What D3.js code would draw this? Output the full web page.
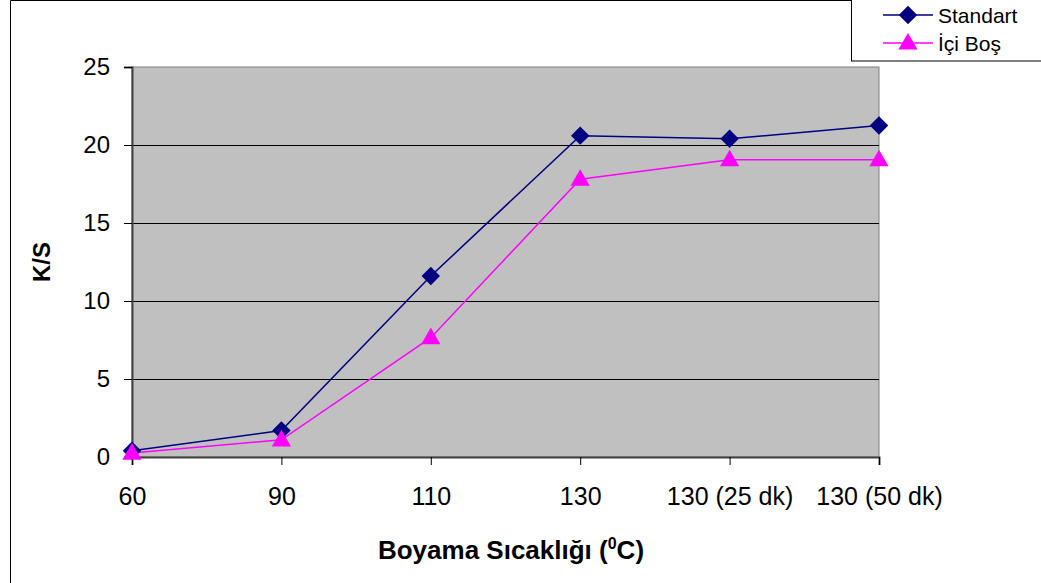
<!DOCTYPE html>
<html>
<head>
<meta charset="utf-8">
<script src="https://cdn.jsdelivr.net/npm/d3@7"></script>
<style>
  body { margin: 0; background: #fff; }
  text { font-family: "Liberation Sans", Arial, sans-serif; }
</style>
</head>
<body>
<svg id="chart" width="1041" height="583"></svg>
<script>
// data
var categories = ["60", "90", "110", "130", "130 (25 dk)", "130 (50 dk)"];
var standart = [0.4, 1.7, 11.6, 20.6, 20.4, 21.25];
var iciBos = [0.25, 1.1, 7.65, 17.8, 19.05, 19.05];
var yTicks = [0, 5, 10, 15, 20, 25];

var svg = d3.select("#chart");

// outer chart border (left and top visible)
svg.append("path")
  .attr("d", "M10.5,583 V0.5 H1041")
  .attr("fill", "none")
  .attr("stroke", "#000")
  .attr("stroke-width", 1);

var plot = { left: 132, right: 879, top: 67, bottom: 457 };

var x = d3.scalePoint()
  .domain(categories)
  .range([plot.left, plot.right]);

var y = d3.scaleLinear()
  .domain([0, 25])
  .range([plot.bottom, plot.top]);

// plot background
svg.append("rect")
  .attr("x", plot.left)
  .attr("y", plot.top)
  .attr("width", plot.right - plot.left)
  .attr("height", plot.bottom - plot.top)
  .attr("fill", "#c0c0c0")
  .attr("stroke", "#808080")
  .attr("stroke-width", 1);

// gridlines
svg.append("g").selectAll("line.grid").data(yTicks.slice(1, -1)).enter().append("line")
  .attr("class", "grid")
  .attr("x1", plot.left)
  .attr("x2", plot.right)
  .attr("y1", function(d) { return Math.round(y(d)) + 0.5; })
  .attr("y2", function(d) { return Math.round(y(d)) + 0.5; })
  .attr("stroke", "#000")
  .attr("stroke-width", 1);

// y axis
var yAxis = svg.append("g")
  .attr("transform", "translate(" + plot.left + ",0)")
  .call(d3.axisLeft(y).tickValues(yTicks).tickSize(8).tickPadding(14));
yAxis.select(".domain").attr("stroke", "#404040").attr("stroke-width", 2);
yAxis.selectAll(".tick line").attr("stroke", "#000");
yAxis.selectAll("text").attr("font-size", 24).attr("fill", "#000")
  .attr("font-family", "Liberation Sans, Arial, sans-serif");

// x axis
var xAxis = svg.append("g")
  .attr("transform", "translate(0," + plot.bottom + ")")
  .call(d3.axisBottom(x).tickSize(8).tickPadding(22));
xAxis.select(".domain").attr("stroke", "#404040").attr("stroke-width", 2);
xAxis.selectAll(".tick line").attr("stroke", "#000");
xAxis.selectAll("text").attr("font-size", 25).attr("fill", "#000")
  .attr("font-family", "Liberation Sans, Arial, sans-serif");

// axis titles
svg.append("text")
  .attr("x", 511)
  .attr("y", 559)
  .attr("text-anchor", "middle")
  .attr("font-size", 26)
  .attr("font-weight", "bold")
  .html('Boyama Sıcaklığı (<tspan dy="-10" font-size="16">0</tspan><tspan dy="10">C)</tspan>');

svg.append("text")
  .attr("transform", "translate(50,262) rotate(-90)")
  .attr("text-anchor", "middle")
  .attr("font-size", 24)
  .attr("font-weight", "bold")
  .text("K/S");

var line = d3.line()
  .x(function(d, i) { return x(categories[i]); })
  .y(function(d) { return y(d); });

var diamond = d3.symbol().type(d3.symbolSquare).size(170);
var triangle = d3.symbol().type(d3.symbolTriangle).size(160);

// İçi Boş series
svg.append("path").datum(iciBos)
  .attr("d", line)
  .attr("fill", "none")
  .attr("stroke", "#ff00ff")
  .attr("stroke-width", 1.5);

// Standart series
svg.append("path").datum(standart)
  .attr("d", line)
  .attr("fill", "none")
  .attr("stroke", "#000080")
  .attr("stroke-width", 1.5);

svg.selectAll("path.std").data(standart).enter().append("path")
  .attr("class", "std")
  .attr("d", diamond)
  .attr("fill", "#000080")
  .attr("transform", function(d, i) {
    return "translate(" + x(categories[i]) + "," + y(d) + ") rotate(45)";
  });

svg.selectAll("path.bos").data(iciBos).enter().append("path")
  .attr("class", "bos")
  .attr("d", triangle)
  .attr("fill", "#ff00ff")
  .attr("transform", function(d, i) {
    return "translate(" + x(categories[i]) + "," + (y(d) + 1) + ")";
  });

// legend
var legend = svg.append("g");
legend.append("rect")
  .attr("x", 851.5)
  .attr("y", -1)
  .attr("width", 190)
  .attr("height", 62)
  .attr("fill", "#fff")
  .attr("stroke", "#000");

var legendItems = [
  { name: "Standart", color: "#000080", sym: "diamond" },
  { name: "İçi Boş", color: "#ff00ff", sym: "triangle" }
];

var li = legend.selectAll("g.item").data(legendItems).enter().append("g")
  .attr("class", "item")
  .attr("transform", function(d, i) { return "translate(0," + (15 + i * 28) + ")"; });

li.append("line")
  .attr("x1", 883).attr("x2", 933)
  .attr("y1", 0).attr("y2", 0)
  .attr("stroke", function(d) { return d.color; })
  .attr("stroke-width", 1.5);

li.append("path")
  .attr("d", function(d) { return d.sym == "diamond" ? diamond() : triangle(); })
  .attr("fill", function(d) { return d.color; })
  .attr("transform", function(d) {
    return d.sym == "diamond" ? "translate(908,0) rotate(45)" : "translate(908,1)";
  });

li.append("text")
  .attr("x", 938)
  .attr("y", 8)
  .attr("font-size", 21)
  .attr("fill", "#000")
  .text(function(d) { return d.name; });
</script>
</body>
</html>
